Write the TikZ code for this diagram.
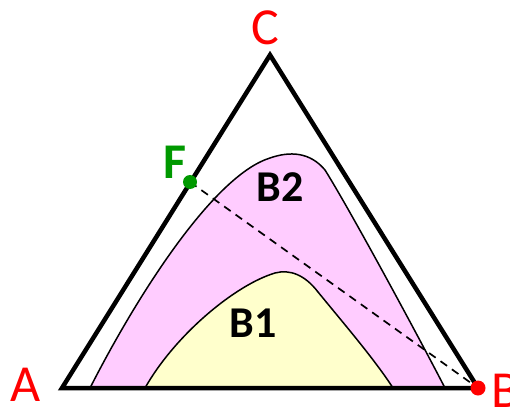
\documentclass[tikz,border=0pt]{standalone}
\usepackage{fontspec}
\setmainfont{Carlito}
\definecolor{regpink}{HTML}{FFCCFF}
\definecolor{regyellow}{HTML}{FFFFCC}
\definecolor{ptgreen}{HTML}{009900}
\begin{document}
\begin{tikzpicture}[x=1pt,y=-1pt,line width=1.5pt,
    vlabel/.style={text=red,font=\fontsize{52}{52}\selectfont,inner sep=0pt,anchor=base},
    rlabel/.style={font=\fontsize{44}{44}\selectfont\bfseries,inner sep=0pt,anchor=base}]
    \useasboundingbox (0,0) rectangle (510,406);

    \coordinate (A) at (62,388);
    \coordinate (B) at (478,388);
    \coordinate (C) at (270,55);
    \coordinate (F) at (190,182);

    % regions
    \filldraw[fill=regpink] (90,388) .. controls (140,290) and (215,175) .. (270,158)
        .. controls (290,151) and (310,152) .. (325,170)
        .. controls (350,210) and (415,330) .. (445,388) -- cycle;
    \filldraw[fill=regyellow] (145,388) .. controls (175,335) and (235,285) .. (275,273)
        .. controls (290,269) and (305,275) .. (318,292)
        .. controls (345,325) and (375,360) .. (393,388) -- cycle;

    \draw[line width=4.5pt] (A) -- (B) -- (C) -- cycle;
    \draw[dashed,dash pattern=on 8pt off 6pt,line width=1.7pt] (F) -- (B);

    \fill[ptgreen] (F) circle[radius=7pt];
    \fill[red] (B) circle[radius=7.5pt];

    \node[vlabel] (labA) at (26,401) {A};
    \node[vlabel] (labB) at (506,407) {B};
    \node[vlabel] (labC) at (265,45) {C};
    \node[vlabel,text=ptgreen,font=\fontsize{50}{50}\selectfont\bfseries] (labF) at (175,178) {F};
    \node[rlabel] (labB2) at (280,201) {B2};
    \node[rlabel] (labB1) at (253,337) {B1};
\end{tikzpicture}
\end{document}
